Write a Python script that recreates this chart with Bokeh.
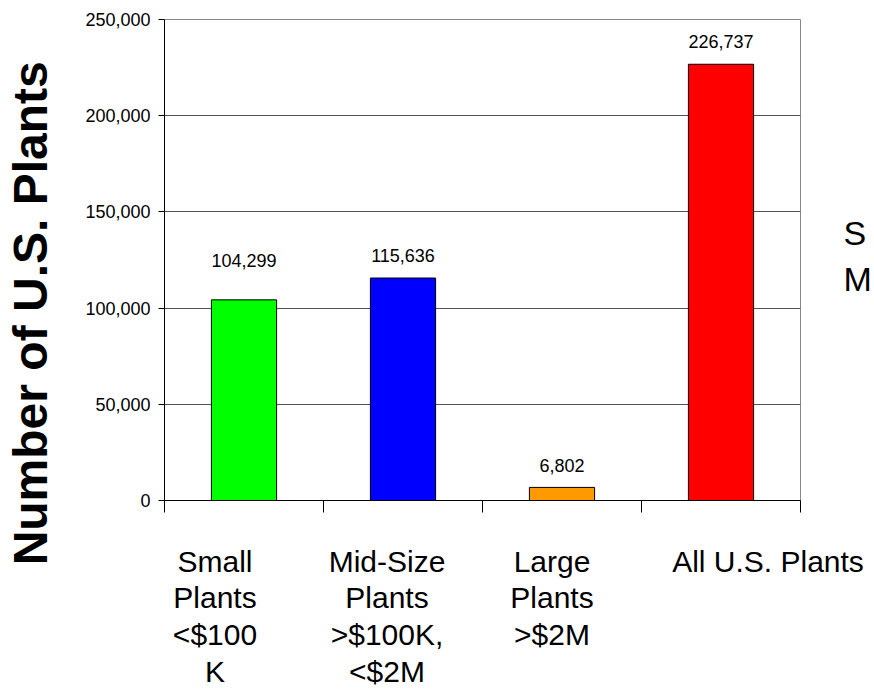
import numpy as np
from bokeh.plotting import figure
from bokeh.models import (ColumnDataSource, Range1d, FixedTicker, NumeralTickFormatter,
                          LabelSet, LinearAxis)
from bokeh.core.properties import value
from bokeh.embed import file_html
from bokeh.resources import INLINE

# ---- data ----
categories = ["Small\nPlants\n<$100\nK", "Mid-Size\nPlants\n>$100K,\n<$2M",
              "Large\nPlants\n>$2M", "All U.S. Plants"]
plant_counts = [104299, 115636, 6802, 226737]
value_labels = ["104,299", "115,636", "6,802", "226,737"]
bar_colors = ["#00FF00", "#0000FF", "#FF9900", "#FF0000"]
y_ticks = [0, 50000, 100000, 150000, 200000, 250000]
y_title = "Number of U.S. Plants"
side_texts = ["S", "M"]            # slide text cut off at the right edge

# ---- style ----
label_gap = [33, 16, 15, 16]            # px between bar top and value text
cat_label_shift = [-29, -16, -10, 47]   # px horizontal shift of category text
side_text_px = [232, 278]               # px from top of canvas for side texts
SANS = "Liberation Sans"
FRAME_W, FRAME_H, TOP = 636, 481, 19

n = len(categories)
centers = (np.arange(n) + 0.5).tolist()
px_per_unit = FRAME_W / n
label_pos = [round(c + s / px_per_unit, 4) for c, s in zip(centers, cat_label_shift)]
ymax = y_ticks[-1]
side_pos = [round((TOP + FRAME_H - py) / FRAME_H * ymax, 1) for py in side_text_px]

src = ColumnDataSource(dict(x=centers, y=plant_counts, color=bar_colors,
                            vl=value_labels, gap=label_gap))

p = figure(width=874, height=693, output_backend="svg", toolbar_location=None,
           x_range=Range1d(0, n), y_range=Range1d(0, ymax),
           min_border_left=164, min_border_right=74, min_border_top=TOP, min_border_bottom=193)
p.background_fill_color = "white"
p.border_fill_color = "white"
p.outline_line_color = "#888888"
p.outline_line_width = 1

p.vbar(x="x", top="y", width=0.41, bottom=0, fill_color="color", line_color="black",
       line_width=1, source=src)

# x axis: minor ticks at category boundaries, labels under categories
p.xaxis.ticker = FixedTicker(ticks=label_pos, minor_ticks=list(range(n + 1)))
p.xaxis.major_label_overrides = {pos: cat for pos, cat in zip(label_pos, categories)}
p.xaxis.major_tick_line_color = None
p.xaxis.major_tick_out = 0
p.xaxis.major_tick_in = 0
p.xaxis.minor_tick_out = 12
p.xaxis.minor_tick_in = 0
p.xaxis.minor_tick_line_color = "black"
p.xaxis.axis_line_color = "black"
p.xaxis.major_label_standoff = 32
p.xaxis.major_label_text_font = SANS
p.xaxis.major_label_text_font_size = "30px"
p.xaxis.major_label_text_color = "black"
p.xaxis.major_label_text_line_height = 1.12

# y axis
p.yaxis.ticker = FixedTicker(ticks=y_ticks)
p.yaxis.formatter = NumeralTickFormatter(format="0,0")
p.yaxis.major_tick_out = 6
p.yaxis.major_tick_in = 0
p.yaxis.minor_tick_line_color = None
p.yaxis.axis_line_color = "black"
p.yaxis.major_label_text_font = SANS
p.yaxis.major_label_text_font_size = "18px"
p.yaxis.major_label_text_color = "black"
p.yaxis.major_label_standoff = 8
p.yaxis.axis_label = y_title + "\u00a0" * 8
p.yaxis.axis_label_text_font = SANS
p.yaxis.axis_label_text_font_style = "bold"
p.yaxis.axis_label_text_font_size = "48px"
p.yaxis.axis_label_text_color = "black"
p.yaxis.axis_label_standoff = 25

p.xgrid.grid_line_color = None
p.ygrid.grid_line_color = "#555555"
p.ygrid.grid_line_width = 1

# side text on the right (cut off by the picture edge)
side = LinearAxis(ticker=FixedTicker(ticks=side_pos),
                  major_label_overrides={pos: t for pos, t in zip(side_pos, side_texts)},
                  axis_line_color=None, major_tick_line_color=None, minor_tick_line_color=None,
                  major_tick_out=0, major_tick_in=0, major_label_standoff=43,
                  major_label_text_font=SANS, major_label_text_font_size="34px",
                  major_label_text_color="black")
p.add_layout(side, "right")

# value labels
p.add_layout(LabelSet(x="x", y="y", text="vl", y_offset="gap", source=src,
                      text_align="center", text_baseline="alphabetic",
                      text_font=value(SANS), text_font_size=value("18px"),
                      text_color="black"))

open("out.html", "w").write(file_html(p, INLINE))
